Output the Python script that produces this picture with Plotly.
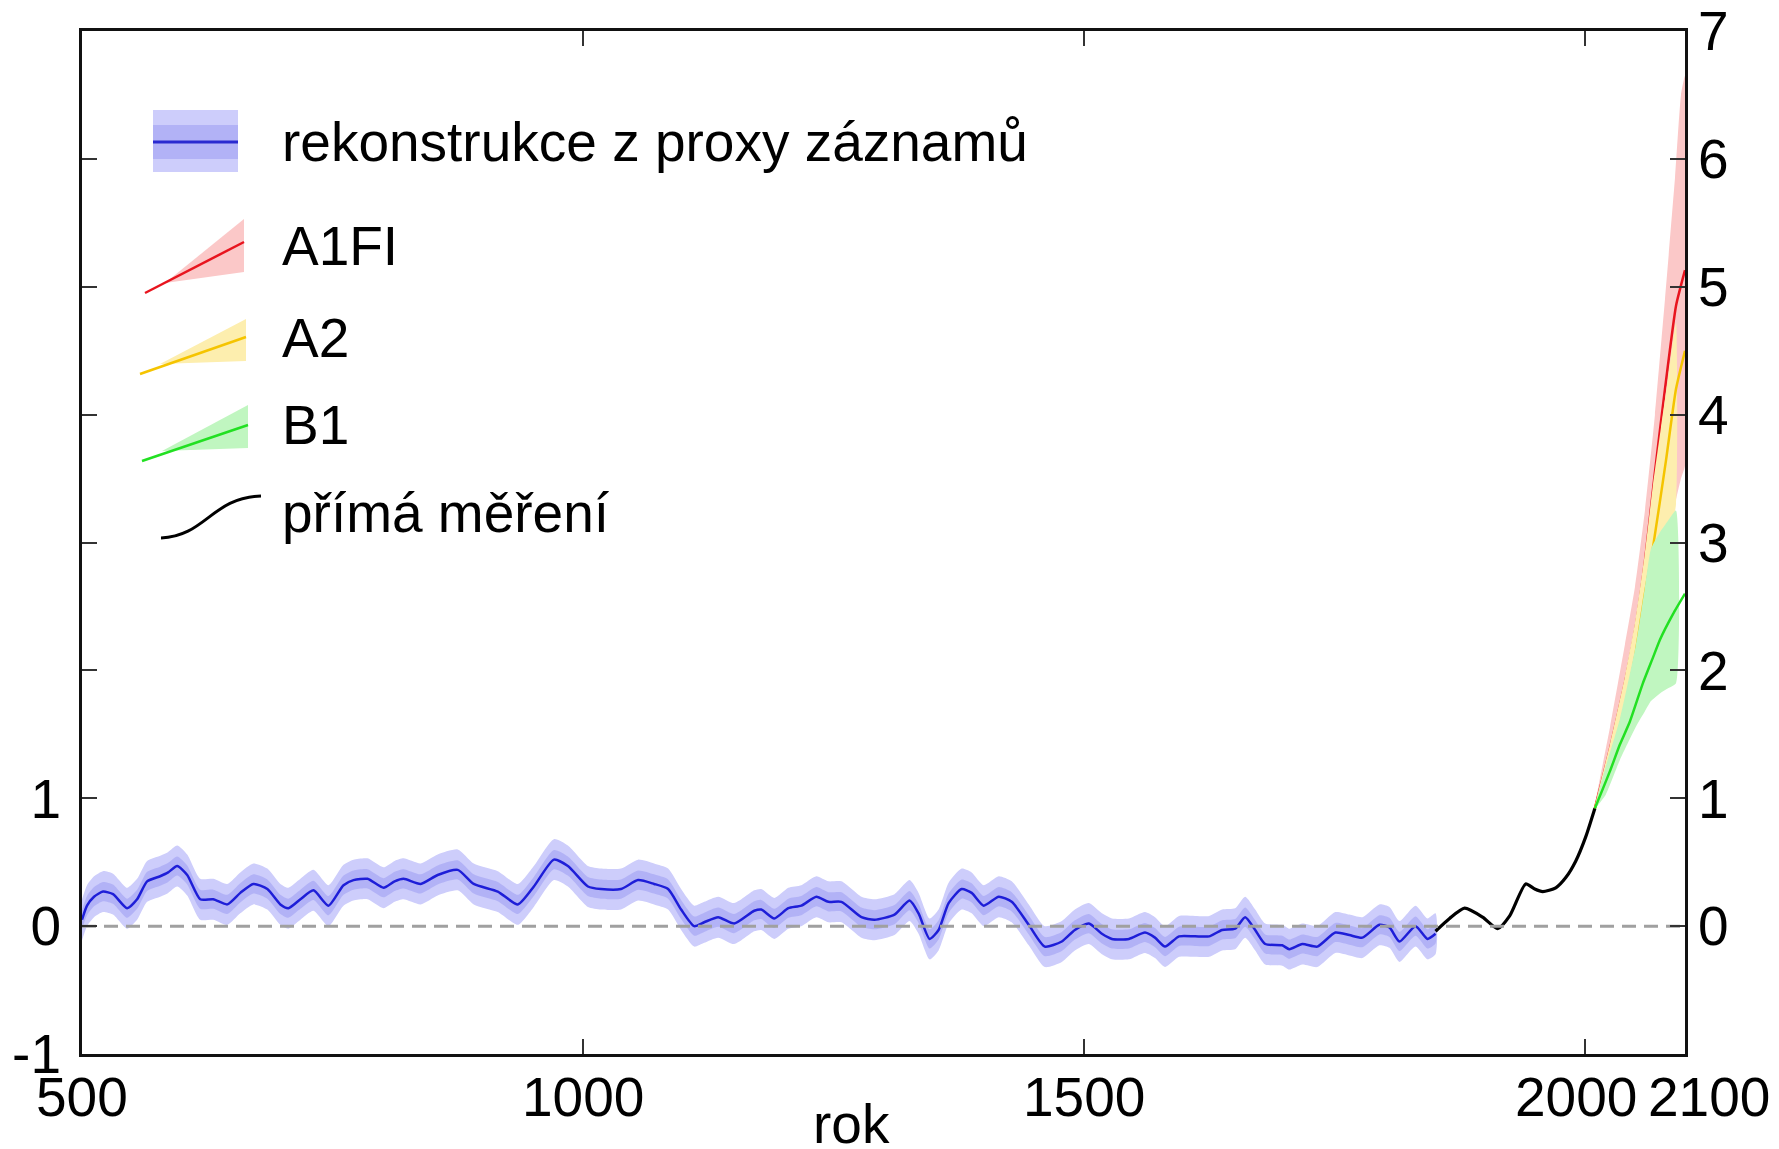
import plotly.graph_objects as go

# ---- reconstruction from proxy records (annual anomaly, deg C) ----
proxy_years = [500, 505, 512, 521, 531, 545, 555, 565, 578, 586, 595, 605, 618, 631, 645,
               658, 671, 685, 698, 706, 718, 731, 746, 761, 771, 785, 801, 812, 821, 838,
               855, 875, 891, 915, 935, 951, 971, 985, 1005, 1018, 1038, 1055, 1071, 1085,
               1098, 1111, 1121, 1135, 1151, 1171, 1178, 1191, 1205, 1218, 1233, 1245, 1258,
               1278, 1291, 1311, 1326, 1335, 1346, 1355, 1365, 1378, 1388, 1400, 1415, 1428,
               1445, 1461, 1478, 1491, 1505, 1518, 1528, 1545, 1561, 1571, 1581, 1595, 1611,
               1625, 1638, 1651, 1661, 1671, 1681, 1698, 1705, 1718, 1733, 1751, 1765, 1778,
               1795, 1805, 1815, 1831, 1843, 1851]
proxy_temp = [0.05, 0.16, 0.23, 0.27, 0.25, 0.14, 0.21, 0.35, 0.39, 0.42, 0.47, 0.40, 0.21, 0.21, 0.17,
              0.26, 0.33, 0.29, 0.17, 0.14, 0.21, 0.28, 0.16, 0.32, 0.36, 0.37, 0.30, 0.35, 0.37, 0.33,
              0.40, 0.44, 0.33, 0.27, 0.17, 0.31, 0.52, 0.47, 0.31, 0.29, 0.29, 0.36, 0.33, 0.29,
              0.13, 0.00, 0.03, 0.07, 0.02, 0.12, 0.13, 0.06, 0.14, 0.16, 0.23, 0.19, 0.19,
              0.07, 0.05, 0.09, 0.20, 0.10, -0.10, -0.03, 0.18, 0.29, 0.26, 0.16, 0.23, 0.19,
              0.01, -0.16, -0.12, -0.03, 0.02, -0.06, -0.10, -0.10, -0.05, -0.09, -0.16, -0.08, -0.08,
              -0.08, -0.03, -0.02, 0.07, -0.03, -0.14, -0.15, -0.18, -0.14, -0.16, -0.05, -0.07, -0.09,
              0.01, -0.01, -0.12, 0.00, -0.10, -0.06]
proxy_inner_halfwidth = 0.075  # inner uncertainty band
proxy_outer_halfwidth = 0.16   # outer uncertainty band

# ---- instrumental record ----
measured_years = [1851, 1865, 1880, 1898, 1913, 1925, 1941, 1950, 1958, 1971, 1981, 1991, 2001, 2010]
measured_temp = [-0.04, 0.06, 0.14, 0.07, -0.02, 0.08, 0.33, 0.29, 0.27, 0.30, 0.38, 0.51, 0.70, 0.92]

# ---- SRES scenario projections ----
a1fi_years = [2010, 2025, 2040, 2050, 2060, 2070, 2080, 2091, 2100]
a1fi_mean = [0.92, 1.38, 1.90, 2.30, 2.85, 3.55, 4.20, 4.85, 5.13]
a1fi_band_years = [2010, 2025, 2040, 2050, 2060, 2070, 2080, 2090, 2096, 2100]
a1fi_upper = [0.92, 1.55, 2.20, 2.65, 3.25, 4.00, 4.90, 5.85, 6.50, 6.65]
a1fi_lower = [0.92, 1.20, 1.55, 1.90, 2.25, 2.60, 2.95, 3.30, 3.50, 3.60]

a2_years = [2010, 2025, 2040, 2050, 2060, 2068, 2081, 2091, 2100]
a2_mean = [0.92, 1.28, 1.72, 2.10, 2.60, 2.96, 3.64, 4.20, 4.50]
a2_band_years = [2010, 2025, 2040, 2050, 2060, 2068, 2076, 2083, 2091]
a2_upper = [0.92, 1.42, 1.95, 2.37, 2.92, 3.45, 3.90, 4.28, 4.72]
a2_lower = [0.92, 1.15, 1.50, 1.80, 2.15, 2.45, 2.70, 2.95, 3.30]

b1_years = [2010, 2025, 2035, 2045, 2058, 2068, 2075, 2088, 2100]
b1_mean = [0.92, 1.21, 1.42, 1.60, 1.90, 2.10, 2.24, 2.44, 2.60]
b1_band_years = [2010, 2021, 2035, 2051, 2060, 2066, 2075, 2083, 2091]
b1_upper = [0.92, 1.25, 1.62, 2.20, 2.65, 2.95, 3.08, 3.17, 3.25]
b1_lower = [0.92, 1.03, 1.30, 1.56, 1.68, 1.76, 1.82, 1.86, 1.90]

# ---- axes ----
x_ticks = [500, 1000, 1500, 2000, 2100]
y_ticks = [-1, 0, 1, 2, 3, 4, 5, 6, 7]
y_left_labels = ["-1", "0", "1", "", "", "", "", "", ""]
y_right_ticks = [0, 1, 2, 3, 4, 5, 6, 7]

legend_labels = ["rekonstrukce z proxy záznamů", "A1FI", "A2", "B1", "přímá měření"]

FONT = "Liberation Sans, Arial, sans-serif"
W, H = 1779, 1149
L, R, T, B = 82, 1685, 31, 1054


def px(x):
    return (x - L) / (R - L)


def py(y):
    return (B - y) / (B - T)


def band(xs, lo, hi):
    return list(xs) + list(xs)[::-1], list(hi) + list(lo)[::-1]


fig = go.Figure()

# proxy uncertainty bands
outer_hi = [v + proxy_outer_halfwidth for v in proxy_temp]
outer_lo = [v - proxy_outer_halfwidth for v in proxy_temp]
inner_hi = [v + proxy_inner_halfwidth for v in proxy_temp]
inner_lo = [v - proxy_inner_halfwidth for v in proxy_temp]
bx, by = band(proxy_years, outer_lo, outer_hi)
fig.add_trace(go.Scatter(x=bx, y=by, fill="toself", fillcolor="#cdcdfb", mode="lines",
                         line=dict(width=0, shape="spline", smoothing=0.6), hoverinfo="skip"))
bx, by = band(proxy_years, inner_lo, inner_hi)
fig.add_trace(go.Scatter(x=bx, y=by, fill="toself", fillcolor="#b2b2f6", mode="lines",
                         line=dict(width=0, shape="spline", smoothing=0.6), hoverinfo="skip"))

# scenarios: each band is laid over the previous scenario's mean line
for yrs, vals, byrs, lo, hi, fcol, lcol in [
        (a1fi_years, a1fi_mean, a1fi_band_years, a1fi_lower, a1fi_upper, "#fbc8c8", "#e8141e"),
        (a2_years, a2_mean, a2_band_years, a2_lower, a2_upper, "#fdeeae", "#f5c400"),
        (b1_years, b1_mean, b1_band_years, b1_lower, b1_upper, "#c0f6c0", "#22e022")]:
    bx, by = band(byrs, lo, hi)
    fig.add_trace(go.Scatter(x=bx, y=by, fill="toself", fillcolor=fcol, mode="lines",
                             line=dict(width=0, shape="spline", smoothing=0.5), hoverinfo="skip"))
    fig.add_trace(go.Scatter(x=yrs, y=vals, mode="lines",
                             line=dict(color=lcol, width=2.5, shape="spline", smoothing=0.5)))

# proxy reconstruction and instrumental record
fig.add_trace(go.Scatter(x=proxy_years, y=proxy_temp, mode="lines",
                         line=dict(color="#1e1ed8", width=2.5, shape="spline", smoothing=0.6)))
fig.add_trace(go.Scatter(x=measured_years, y=measured_temp, mode="lines",
                         line=dict(color="#000000", width=3.2, shape="spline", smoothing=0.6)))

# zero reference line (on the right-hand axis)
fig.add_trace(go.Scatter(x=[500, 2100], y=[0, 0], mode="lines", yaxis="y2",
                         line=dict(color="#a0a0a0", width=3, dash="14px,8px")))

# ---- legend drawn as icons + text ----
shapes = []
# proxy icon: two nested bands with a line
shapes.append(dict(type="rect", xref="paper", yref="paper", x0=px(153), x1=px(238), y0=py(172), y1=py(110),
                   fillcolor="#cdcdfb", line=dict(width=0), layer="above"))
shapes.append(dict(type="rect", xref="paper", yref="paper", x0=px(153), x1=px(238), y0=py(159), y1=py(125),
                   fillcolor="#b2b2f6", line=dict(width=0), layer="above"))
shapes.append(dict(type="line", xref="paper", yref="paper", x0=px(153), x1=px(238), y0=py(142), y1=py(142),
                   line=dict(color="#2a2ad0", width=3), layer="above"))

# scenario wedges
for (ax, ay, rx, top, bot, lend, fcol, lcol) in [
        (145, 293, 244, 219, 272, 242, "#fbc8c8", "#e8141e"),
        (140, 374, 246, 319, 361, 337, "#fdeeae", "#f5c400"),
        (142, 461, 248, 405, 448, 425, "#c0f6c0", "#22e022")]:
    path = "M {} {} L {} {} L {} {} Z".format(px(ax + 20), py(ay - 10), px(rx), py(top), px(rx), py(bot))
    shapes.append(dict(type="path", xref="paper", yref="paper", path=path,
                       fillcolor=fcol, line=dict(width=0), layer="above"))
    shapes.append(dict(type="line", xref="paper", yref="paper", x0=px(ax), y0=py(ay), x1=px(rx), y1=py(lend),
                       line=dict(color=lcol, width=2.5), layer="above"))

# instrumental icon: S-shaped curve
x0, y0, x1, y1 = 161, 538, 261, 496
path = "M {} {} C {} {}, {} {}, {} {}".format(px(x0), py(y0), px(x0 + 45), py(y0 - 2),
                                               px(x1 - 50), py(y1 + 2), px(x1), py(y1))
shapes.append(dict(type="path", xref="paper", yref="paper", path=path,
                   line=dict(color="#000000", width=3), layer="above"))

annotations = []
for label, yc in zip(legend_labels, [142, 246, 338, 425, 513]):
    annotations.append(dict(text=label, xref="paper", yref="paper", x=px(280), y=py(yc),
                            xanchor="left", yanchor="middle", showarrow=False,
                            font=dict(family=FONT, size=55, color="#000000")))

# x tick labels (2000 and 2100 nudged apart)
for val, shift in zip(x_ticks, [0, 0, 0, -9, 24]):
    annotations.append(dict(text=str(val), xref="x", yref="paper", x=val, y=py(1097),
                            xanchor="center", yanchor="middle", xshift=shift, showarrow=False,
                            font=dict(family=FONT, size=55, color="#000000")))
annotations.append(dict(text="rok", xref="paper", yref="paper", x=px(851), y=py(1124),
                        xanchor="center", yanchor="middle", showarrow=False, borderpad=0,
                        font=dict(family=FONT, size=55, color="#000000")))

fig.update_layout(
    width=W, height=H,
    margin=dict(l=L, r=W - R, t=T, b=H - B, pad=0, autoexpand=False),
    paper_bgcolor="white", plot_bgcolor="white",
    showlegend=False,
    shapes=shapes, annotations=annotations,
    font=dict(family=FONT, size=55, color="#000000"),
    xaxis=dict(range=[500, 2100], tickvals=[1000, 1500, 2000], showticklabels=False,
               ticks="inside", ticklen=15, tickwidth=2, tickcolor="#333333",
               showline=True, linecolor="#111111", linewidth=3, mirror="ticks",
               showgrid=False, zeroline=False, automargin=False),
    yaxis=dict(range=[-1, 7], tickvals=y_ticks, ticktext=y_left_labels,
               ticks="inside", ticklen=15, tickwidth=2, tickcolor="#333333",
               showline=True, linecolor="#111111", linewidth=3, mirror="ticks",
               showgrid=False, zeroline=False, ticklabelstandoff=7, automargin=False,
               tickfont=dict(family=FONT, size=55, color="#000000")),
    yaxis2=dict(range=[-1, 7], overlaying="y", side="right", tickvals=y_right_ticks,
                ticks="", showline=False, showgrid=False, zeroline=False, ticklabelstandoff=12,
                automargin=False, tickfont=dict(family=FONT, size=55, color="#000000")),
)

fig.write_html("out.html")
